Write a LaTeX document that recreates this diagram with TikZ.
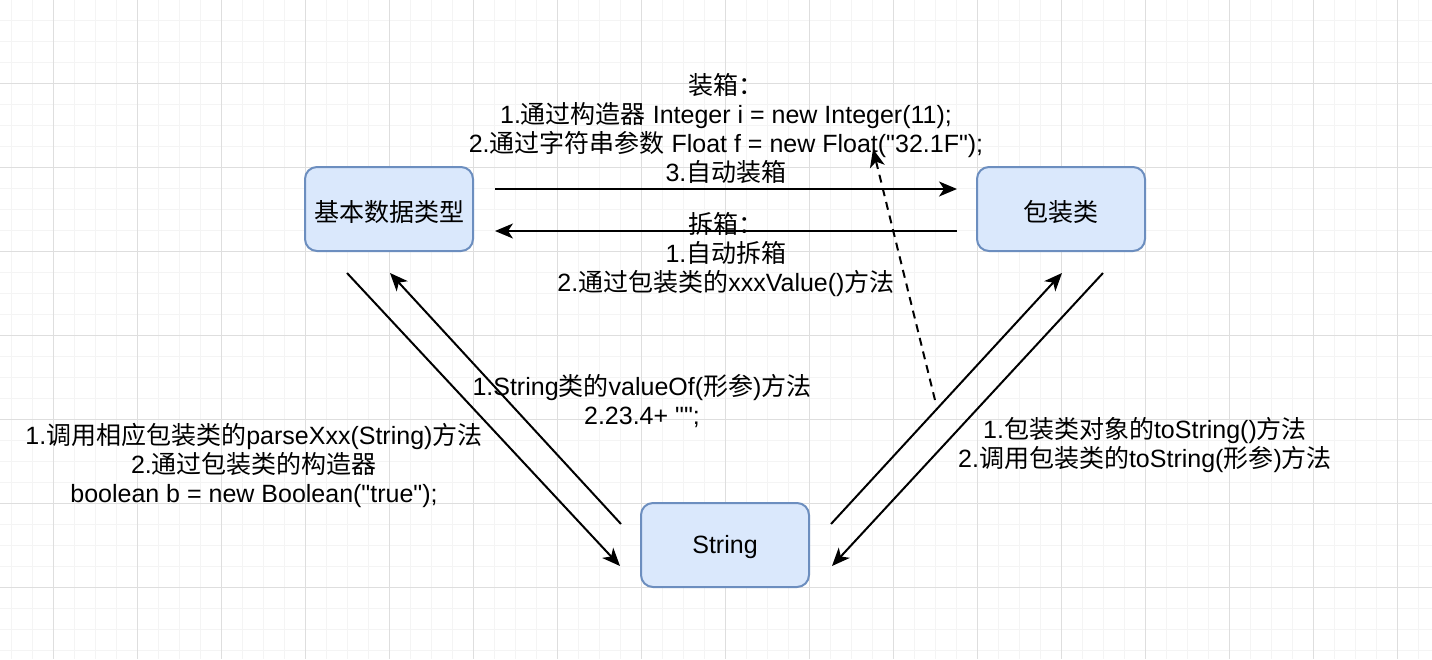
\documentclass[tikz,border=0pt]{standalone}
\usepackage{fontspec}
\setmainfont{Liberation Sans}
\newfontfamily\latinfont{Liberation Sans}
\newfontfamily\cjk{Noto Sans CJK SC}
\usetikzlibrary{arrows.meta}
\newcommand{\zh}[1]{{\cjk #1}}
\definecolor{boxfill}{HTML}{DAE8FC}
\definecolor{boxdraw}{HTML}{6C8EBF}
\definecolor{gridminor}{HTML}{F4F4F4}
\definecolor{gridmajor}{HTML}{DEDEDE}
\tikzset{
  box/.style={draw=boxdraw, fill=boxfill, line width=2pt, rounded corners=12pt,
    minimum width=168pt, minimum height=84pt, inner sep=0pt,
    font=\latinfont\fontsize{25}{29}\selectfont},
  lbl/.style={align=center, inner sep=0pt, font=\latinfont\fontsize{25}{29}\selectfont},
  conn/.style={line width=2pt, -{Stealth[length=18pt,width=15pt,inset=5pt]}},
  dconn/.style={conn, dash pattern=on 8pt off 6pt},
}
\begin{document}
\begin{tikzpicture}[x=1pt,y=-1pt]
\useasboundingbox (0,0) rectangle (1432,659);
\fill[white] (0,0) rectangle (1432,659);
% grid
\foreach \x in {11,32,...,1432} \draw[gridminor,line width=1pt] (\x,0) -- (\x,659);
\foreach \y in {20,41,...,659} \draw[gridminor,line width=1pt] (0,\y) -- (1432,\y);
\foreach \x in {53,137,...,1432} \draw[gridmajor,line width=1pt] (\x,0) -- (\x,659);
\foreach \y in {83,167,...,659} \draw[gridmajor,line width=1pt] (0,\y) -- (1432,\y);
% boxes
\node[box, text height=25pt, text depth=0pt] (jb) at (389,209) {\zh{基本数据类型}};
\node[box, text height=25pt, text depth=0pt] (bz) at (1061,209) {\zh{包装类}};
\node[box, text height=22pt, text depth=5pt] (st) at (725,545) {String};
% free ends
\coordinate (a1s) at (495,189); \coordinate (a1e) at (957,189);
\coordinate (a2s) at (957,231); \coordinate (a2e) at (495,231);
\coordinate (a3s) at (347,273); \coordinate (a3e) at (620,566);
\coordinate (a4s) at (621,524); \coordinate (a4e) at (390,273);
\coordinate (a5s) at (831,524); \coordinate (a5e) at (1062,273);
\coordinate (a6s) at (1103,273); \coordinate (a6e) at (832,566);
\coordinate (a7s) at (935,400); \coordinate (a7e) at (873,149);
% connectors
\draw[conn] (a1s) -- (a1e);
\draw[conn] (a2s) -- (a2e);
\draw[conn] (a3s) -- (a3e);
\draw[conn] (a4s) -- (a4e);
\draw[conn] (a5s) -- (a5e);
\draw[conn] (a6s) -- (a6e);
\draw[dconn] (a7s) -- (a7e);
% labels
\node[lbl] (t1) at (726,129) {\zh{装箱：}\\1.\zh{通过构造器} Integer i = new Integer(11);\\2.\zh{通过字符串参数} Float f = new Float("32.1F");\\3.\zh{自动装箱}};
\node[lbl] (t2) at (726,255) {\zh{拆箱：}\\1.\zh{自动拆箱}\\2.\zh{通过包装类的}xxxValue()\zh{方法}};
\node[lbl] (t3) at (642,401) {1.String\zh{类的}valueOf(\zh{形参})\zh{方法}\\2.23.4+ "";};
\node[lbl] (t4) at (254,465) {1.\zh{调用相应包装类的}parseXxx(String)\zh{方法}\\2.\zh{通过包装类的构造器}\\boolean b = new Boolean("true");};
\node[lbl] (t5) at (1145,445) {1.\zh{包装类对象的}toString()\zh{方法}\\2.\zh{调用包装类的}toString(\zh{形参})\zh{方法}};
\end{tikzpicture}
\end{document}
